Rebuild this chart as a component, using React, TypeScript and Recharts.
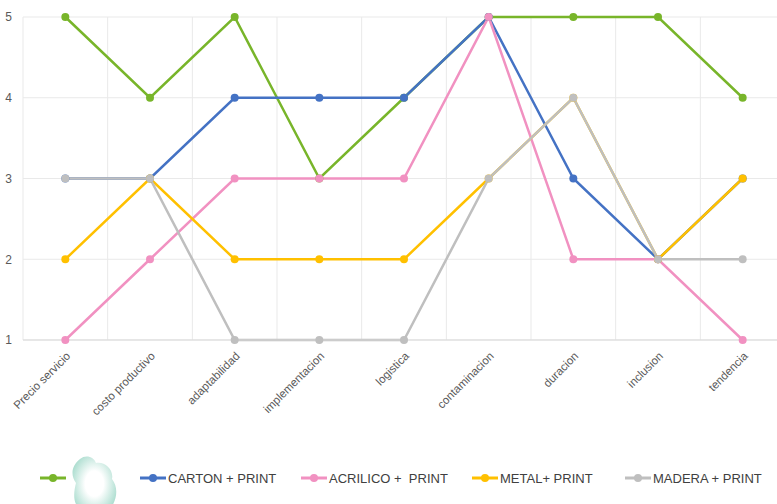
import { LineChart, Line, XAxis, YAxis, CartesianGrid } from 'recharts';

const categories = [
  'Precio servicio',
  'costo productivo',
  'adaptabilidad',
  'implementacion',
  'logistica',
  'contaminacion',
  'duracion',
  'inclusion',
  'tendencia',
];

// first series is labelled with a logo image in the original legend
const logoValues = [5, 4, 5, 3, 4, 5, 5, 5, 4];
const cartonValues = [3, 3, 4, 4, 4, 5, 3, 2, 3];
const acrilicoValues = [1, 2, 3, 3, 3, 5, 2, 2, 1];
const metalValues = [2, 3, 2, 2, 2, 3, 4, 2, 3];
const maderaValues = [3, 3, 1, 1, 1, 3, 4, 2, 2];

const yTicks = [1, 2, 3, 4, 5];

const series = [
  { key: 'logo', name: '', color: '#78B52A', values: logoValues },
  { key: 'carton', name: 'CARTON + PRINT', color: '#4472C4', values: cartonValues },
  { key: 'acrilico', name: 'ACRILICO +  PRINT', color: '#F191C1', values: acrilicoValues },
  { key: 'metal', name: 'METAL+ PRINT', color: '#FFC000', values: metalValues },
  { key: 'madera', name: 'MADERA + PRINT', color: '#BFBFBF', values: maderaValues },
];

const data = categories.map((label, i) => {
  const row: Record<string, string | number> = { label };
  series.forEach((s) => {
    row[s.key] = s.values[i];
  });
  return row;
});

const FONT = "'Liberation Sans', Arial, sans-serif";

// legend item left edges in px
const legendLeft = [40, 140, 301, 472, 625];

function Logo() {
  return (
    <svg width={56} height={64} viewBox="0 0 56 64" style={{ display: 'block', marginTop: 18 }}>
      <defs>
        <radialGradient id="logoGrad" cx="50%" cy="45%" r="60%">
          <stop offset="35%" stopColor="#ffffff" />
          <stop offset="100%" stopColor="#9FD8C8" />
        </radialGradient>
      </defs>
      <path
        d="M14 4 C20 -1 28 2 30 8 C38 6 48 14 46 24 C54 34 50 50 40 58 C30 65 18 62 14 54 C6 48 8 36 10 28 C4 20 6 10 14 4 Z"
        fill="url(#logoGrad)"
      />
    </svg>
  );
}

function LegendRow() {
  return (
    <>
      {series.map((s, i) => (
        <div
          key={s.key}
          style={{
            position: 'absolute',
            left: legendLeft[i],
            top: 470,
            height: 16,
            display: 'flex',
            alignItems: 'center',
            whiteSpace: 'pre',
            fontFamily: FONT,
            fontSize: 13,
            color: '#404040',
          }}
        >
          <svg width={26} height={10} style={{ flex: 'none' }}>
            <line x1={0} y1={5} x2={26} y2={5} stroke={s.color} strokeWidth={3} />
            <circle cx={13} cy={5} r={4} fill={s.color} />
          </svg>
          {i === 0 ? <Logo /> : <span style={{ marginLeft: 2 }}>{s.name}</span>}
        </div>
      ))}
    </>
  );
}

export default function App() {
  return (
    <div style={{ position: 'relative', width: 777, height: 504, overflow: 'hidden', background: '#fff' }}>
      <style>{'body{margin:0}'}</style>
      <LineChart
        width={785}
        height={504}
        data={data}
        margin={{ top: 17, right: 0, left: 0, bottom: 74 }}
      >
        <CartesianGrid
          stroke="#E9E9E9"
          verticalCoordinatesGenerator={({ offset }: any) =>
            categories.map((_, i) => offset.left + (i * offset.width) / categories.length).concat([
              offset.left + offset.width,
            ])
          }
        />
        <XAxis
          dataKey="label"
          scale="band"
          interval={0}
          height={90}
          axisLine={{ stroke: '#D9D9D9' }}
          tickLine={false}
          tick={{ fontSize: 11.5, fill: '#595959', fontFamily: FONT }}
          angle={-45}
          textAnchor="end"
          tickMargin={5}
        />
        <YAxis
          domain={[1, 5]}
          ticks={yTicks}
          width={23}
          axisLine={false}
          tickLine={false}
          tickSize={0}
          tickMargin={11}
          tick={{ fontSize: 12, fill: '#595959', fontFamily: FONT }}
        />
        {series.map((s) => (
          <Line
            key={s.key}
            dataKey={s.key}
            name={s.name}
            stroke={s.color}
            strokeWidth={2.5}
            dot={{ r: 4, fill: s.color, stroke: s.color, strokeWidth: 0 }}
            activeDot={false}
            isAnimationActive={false}
          />
        ))}
      </LineChart>
      <LegendRow />
    </div>
  );
}
